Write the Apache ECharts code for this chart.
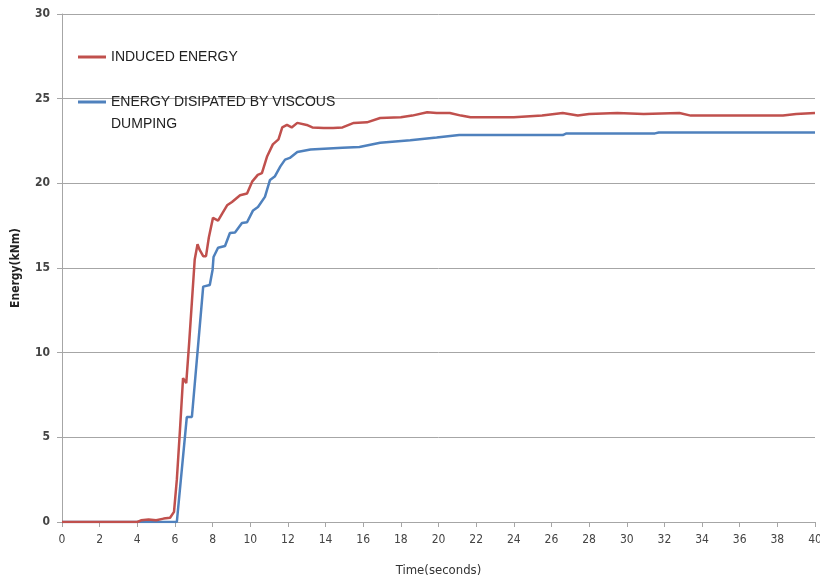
<!DOCTYPE html>
<html>
<head>
<meta charset="utf-8">
<script src="https://cdn.jsdelivr.net/npm/echarts@6/dist/echarts.min.js"></script>
<style>html,body{margin:0;padding:0;background:#fff}#c{width:820px;height:577px}</style>
</head>
<body>
<div id="c"></div>
<script>
var seriesNames = ['INDUCED ENERGY', 'ENERGY DISIPATED BY VISCOUS\nDUMPING'];

var inducedTime = [0, 4.0, 4.2, 4.6, 5.0, 5.4, 5.74, 5.95, 6.1, 6.27, 6.43, 6.48, 6.6, 6.75, 6.9, 7.05, 7.2, 7.3, 7.5, 7.65, 7.8, 8.02, 8.29, 8.5, 8.77, 9.03, 9.46, 9.83, 10.1, 10.4, 10.62, 10.9, 11.2, 11.5, 11.7, 11.95, 12.2, 12.5, 13.0, 13.3, 13.9, 14.4, 14.9, 15.5, 16.2, 16.9, 18.0, 18.6, 19.4, 19.9, 20.6, 21.2, 21.7, 22.8, 24.0, 25.5, 26.6, 27.4, 28.0, 29.5, 30.9, 32.8, 33.4, 38.3, 39.0, 40];
var induced = [0, 0, 0.1, 0.15, 0.1, 0.2, 0.25, 0.6, 2.5, 5.5, 8.5, 8.6, 8.2, 10.5, 13, 15.5, 16.4, 16.1, 15.7, 15.7, 16.8, 17.96, 17.8, 18.2, 18.7, 18.9, 19.3, 19.4, 20.1, 20.5, 20.6, 21.6, 22.3, 22.6, 23.3, 23.45, 23.3, 23.57, 23.45, 23.3, 23.27, 23.27, 23.3, 23.57, 23.6, 23.86, 23.9, 24.0, 24.2, 24.15, 24.15, 24.0, 23.9, 23.9, 23.9, 24.0, 24.15, 24.0, 24.1, 24.15, 24.1, 24.15, 24.0, 24.0, 24.1, 24.15];

var dissipatedTime = [0, 6.1, 6.16, 6.63, 6.9, 7.5, 7.85, 8.0, 8.05, 8.29, 8.66, 8.92, 9.19, 9.56, 9.83, 10.15, 10.41, 10.78, 11.05, 11.3, 11.6, 11.85, 12.1, 12.5, 13.2, 14.9, 15.8, 16.9, 18.5, 19.9, 21.1, 26.6, 26.8, 31.5, 31.7, 40];
var dissipated = [0, 0, 0, 6.2, 6.2, 13.9, 14.0, 14.9, 15.65, 16.2, 16.3, 17.07, 17.1, 17.66, 17.7, 18.4, 18.6, 19.2, 20.2, 20.4, 21.0, 21.4, 21.5, 21.85, 22.0, 22.1, 22.15, 22.4, 22.55, 22.7, 22.85, 22.85, 22.95, 22.95, 23.0, 23.0];

function pairs(t, v) { return t.map(function (x, i) { return [x, v[i]]; }); }

var chart = echarts.init(document.getElementById('c'), null, { renderer: 'canvas' });
chart.setOption({
  animation: false,
  backgroundColor: '#fff',
  grid: { left: 62, right: 5, top: 14, bottom: 55, containLabel: false, outerBoundsMode: 'none' },
  legend: {
    orient: 'vertical',
    left: 78,
    top: 46,
    padding: 0,
    itemWidth: 28,
    itemHeight: 3,
    itemGap: 1,
    icon: 'rect',
    formatter: function (name) { return name === seriesNames[1] ? '\n' + name : name; },
    textStyle: { fontFamily: 'Liberation Sans', fontSize: 14, color: '#222', lineHeight: 22 },
    data: seriesNames
  },
  xAxis: {
    type: 'value', min: 0, max: 40, interval: 2,
    name: 'Time(seconds)', nameLocation: 'middle', nameGap: 42,
    nameTextStyle: { fontFamily: 'DejaVu Sans Condensed', fontSize: 13, color: '#333' },
    axisLine: { show: true, lineStyle: { color: '#a6a6a6', width: 1 } },
    axisTick: { show: true, inside: false, length: 5, lineStyle: { color: '#a6a6a6' } },
    axisLabel: { fontFamily: 'DejaVu Sans Condensed', fontSize: 12, color: '#444', margin: 12 },
    splitLine: { show: false }
  },
  yAxis: {
    type: 'value', min: 0, max: 30, interval: 5,
    name: 'Energy(kNm)', nameLocation: 'middle', nameGap: 40, nameRotate: 90,
    nameTextStyle: { fontFamily: 'DejaVu Sans Condensed', fontSize: 12, fontWeight: 'bold', color: '#222' },
    axisLine: { show: true, lineStyle: { color: '#a6a6a6', width: 1 } },
    axisTick: { show: true, inside: false, length: 5, lineStyle: { color: '#a6a6a6' } },
    axisLabel: { fontFamily: 'DejaVu Sans Condensed', fontSize: 12, color: '#444', margin: 12, fontWeight: 'bold' },
    splitLine: { show: true, lineStyle: { color: '#a6a6a6', width: 1 } }
  },
  series: [
    { name: seriesNames[0], type: 'line', symbol: 'none', data: pairs(inducedTime, induced),
      itemStyle: { color: '#c0504d' }, lineStyle: { color: '#c0504d', width: 2.5 }, z: 3 },
    { name: seriesNames[1], type: 'line', symbol: 'none', data: pairs(dissipatedTime, dissipated),
      itemStyle: { color: '#4f81bd' }, lineStyle: { color: '#4f81bd', width: 2.5 }, z: 2 }
  ]
});
</script>
</body>
</html>
